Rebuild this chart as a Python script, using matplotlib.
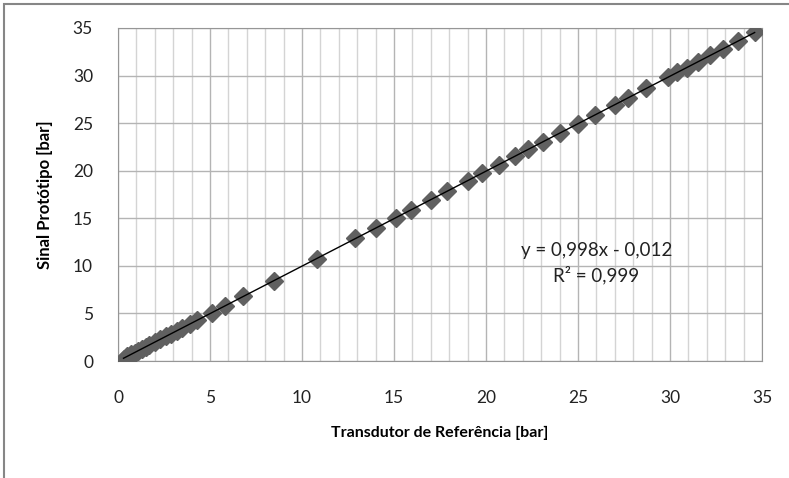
import numpy as np
import matplotlib.pyplot as plt
from matplotlib.patches import Rectangle

# pontos medidos: transdutor de referencia x sinal do prototipo [bar]
ref = [0.3, 0.5, 0.7, 0.9, 1.1, 1.3, 1.5, 1.7, 2.0, 2.3, 2.6, 2.9, 3.2, 3.5,
       3.9, 4.3, 5.1, 5.8, 6.8, 8.5, 10.8, 12.9, 14.0, 15.1, 15.9, 17.0, 17.9,
       19.0, 19.8, 20.7, 21.6, 22.3, 23.1, 24.0, 25.0, 25.9, 27.0, 27.7, 28.7,
       29.9, 30.4, 30.9, 31.5, 32.2, 32.9, 33.7, 34.6]
prot = [0.25, 0.48, 0.70, 0.88, 1.08, 1.30, 1.52, 1.68, 1.98, 2.28, 2.62,
        2.88, 3.18, 3.52, 3.86, 4.30, 5.05, 5.80, 6.78, 8.46, 10.75, 12.90,
        13.95, 15.05, 15.85, 16.95, 17.85, 18.95, 19.75, 20.65, 21.55, 22.25,
        23.05, 23.95, 24.95, 25.85, 26.92, 27.62, 28.65, 29.85, 30.35, 30.82,
        31.42, 32.12, 32.82, 33.62, 34.55]
ticks = [0, 5, 10, 15, 20, 25, 30, 35]
eq_text = "y = 0,998x - 0,012\nR² = 0,999"

plt.rcParams['font.family'] = ['Lato', 'DejaVu Sans']

fig = plt.figure(figsize=(7.89, 4.78), dpi=100)
ax = fig.add_axes([118 / 789, 1 - 361 / 478, 644 / 789, 333 / 478])

# borda da area do grafico (recortada)
fig.patches.append(Rectangle((4 / 789, -0.1), 1.2, 1 - 4 / 478 + 0.1,
                             transform=fig.transFigure, fill=False,
                             edgecolor='#868686', lw=1.5))

ax.set_xlim(0, 35)
ax.set_ylim(0, 35)
ax.set_xticks(ticks)
ax.set_yticks(ticks)
ax.set_xticks(np.arange(0, 36, 1), minor=True)
ax.grid(which='minor', axis='x', color='#d4d4d4', lw=1)
ax.grid(which='major', axis='x', color='#b4b4b4', lw=1)
ax.grid(which='major', axis='y', color='#b4b4b4', lw=1)
ax.set_axisbelow(True)
ax.tick_params(which='both', length=0, labelsize=12.5, colors='#222222')
ax.tick_params(axis='x', pad=21)
ax.tick_params(axis='y', pad=18)
for s in ax.spines.values():
    s.set_color('#969696')

ax.plot(ref, prot, 'D', color='#606060', ms=9.5, mec='#606060', zorder=3)

# linha de tendencia
a, b = np.polyfit(ref, prot, 1)
xl = np.array([min(ref), max(ref)])
ax.plot(xl, a * xl + b, color='black', lw=1, zorder=4)

ax.text(26.0, 10.25, eq_text, ha='center', va='center', fontsize=13.5,
        linespacing=1.45, color='#222222')

ax.set_xlabel('Transdutor de Referência [bar]', fontsize=11.5,
              fontweight='bold', labelpad=14)
ax.set_ylabel('Sinal Protótipo [bar]', fontsize=12, fontweight='bold',
              labelpad=14)

fig.savefig('out.png', dpi=100)
